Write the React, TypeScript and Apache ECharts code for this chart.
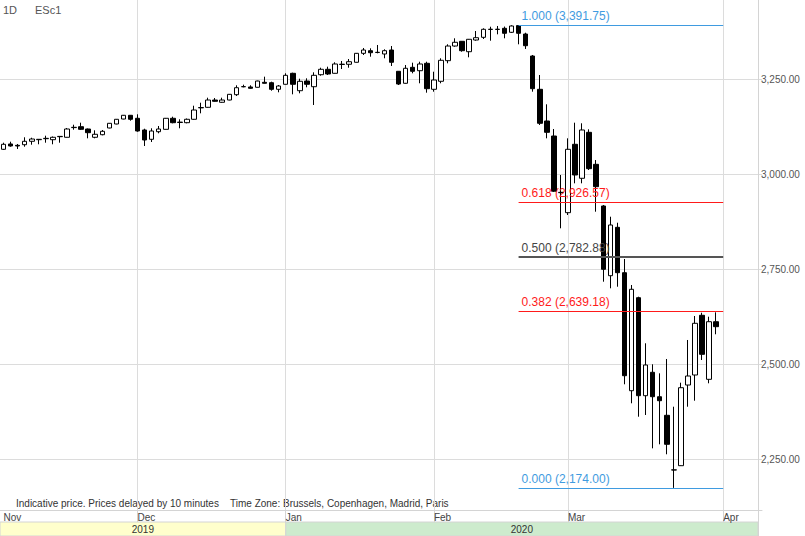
import React, { useEffect, useRef } from 'react';
import * as echarts from 'echarts';

const dates = [
  '2019-11-04','2019-11-05','2019-11-06','2019-11-07','2019-11-08','2019-11-11','2019-11-12','2019-11-13','2019-11-14','2019-11-15',
  '2019-11-18','2019-11-19','2019-11-20','2019-11-21','2019-11-22','2019-11-25','2019-11-26','2019-11-27','2019-11-29',
  '2019-12-02','2019-12-03','2019-12-04','2019-12-05','2019-12-06','2019-12-09','2019-12-10','2019-12-11','2019-12-12','2019-12-13',
  '2019-12-16','2019-12-17','2019-12-18','2019-12-19','2019-12-20','2019-12-23','2019-12-24','2019-12-26','2019-12-27','2019-12-30','2019-12-31',
  '2020-01-02','2020-01-03','2020-01-06','2020-01-07','2020-01-08','2020-01-09','2020-01-10','2020-01-13','2020-01-14','2020-01-15',
  '2020-01-16','2020-01-17','2020-01-21','2020-01-22','2020-01-23','2020-01-24','2020-01-27','2020-01-28','2020-01-29','2020-01-30','2020-01-31',
  '2020-02-03','2020-02-04','2020-02-05','2020-02-06','2020-02-07','2020-02-10','2020-02-11','2020-02-12','2020-02-13','2020-02-14',
  '2020-02-18','2020-02-19','2020-02-20','2020-02-21','2020-02-24','2020-02-25','2020-02-26','2020-02-27','2020-02-28',
  '2020-03-02','2020-03-03','2020-03-04','2020-03-05','2020-03-06','2020-03-09','2020-03-10','2020-03-11','2020-03-12','2020-03-13',
  '2020-03-16','2020-03-17','2020-03-18','2020-03-19','2020-03-20','2020-03-23','2020-03-24','2020-03-25','2020-03-26','2020-03-27',
  '2020-03-30','2020-03-31',
  '2020-04-01','2020-04-02','2020-04-03','2020-04-06','2020-04-07','2020-04-08',
];

const opens = [
  3065.0,3079.0,3075.5,3077.1,3086.1,3090.3,3092.9,3090.3,3098.2,3096.6,
  3122.1,3124.5,3118.4,3096.6,3103.4,3121.1,3131.6,3144.7,3154.5,3146.6,
  3115.8,3091.3,3111.3,3117.6,3146.6,3135.5,3135.0,3144.0,3174.0,3175.5,
  3194.7,3188.7,3194.7,3208.7,3229.5,3229.0,3228.2,3241.3,3240.3,3222.9,
  3236.1,3265.0,3219.2,3244.7,3229.7,3261.3,3275.5,3265.0,3288.2,3288.7,
  3294.0,3317.6,3324.5,3319.7,3315.8,3326.3,3270.3,3238.7,3280.8,3271.8,
  3291.3,3222.9,3244.0,3298.2,3336.8,3349.2,3321.8,3352.6,3359.7,3380.3,
  3380.3,3383.4,3372.9,3390.5,3368.4,3310.5,3222.9,3139.5,3100.0,2950.8,
  2898.2,3078.2,2988.7,3109.7,3025.5,2915.8,2732.4,2859.7,2740.3,2429.7,
  2674.5,2416.6,2478.2,2413.9,2365.0,2221.0,2232.4,2444.7,2471.1,2628.2,
  2459.7,2611.3,
];
const closes = [
  3078.2,3073.7,3073.7,3086.1,3092.1,3091.3,3093.9,3096.6,3099.0,3118.4,
  3122.9,3117.6,3108.7,3104.5,3112.4,3133.4,3144.0,3154.5,3144.0,3113.2,
  3089.5,3113.2,3118.4,3146.6,3135.0,3136.6,3144.0,3168.4,3175.0,3194.7,
  3191.3,3194.7,3209.7,3227.1,3230.0,3225.5,3244.7,3238.7,3222.9,3231.6,
  3259.7,3236.1,3244.0,3236.1,3259.7,3275.5,3263.2,3289.5,3289.0,3295.5,
  3317.6,3326.3,3319.2,3320.3,3324.5,3294.0,3236.8,3278.2,3270.3,3289.5,
  3224.5,3247.4,3299.2,3336.8,3346.6,3324.5,3354.5,3358.7,3380.8,3381.1,
  3381.1,3370.3,3389.5,3370.3,3337.6,3224.5,3133.4,3109.7,2954.7,2951.8,
  3065.0,2997.4,3115.8,3014.0,2966.6,2749.2,2865.8,2740.3,2469.2,2696.6,
  2416.6,2497.4,2413.9,2403.4,2288.7,2221.5,2437.6,2468.4,2607.1,2525.5,
  2611.3,2598.2,
];
const lows = [
  3063.2,3071.8,3065.8,3071.8,3077.1,3078.2,3082.4,3078.2,3082.4,3096.1,
  3116.6,3115.8,3093.9,3093.9,3101.8,3120.3,3130.8,3144.0,3140.3,3111.3,
  3073.7,3084.2,3107.1,3117.1,3133.4,3120.3,3133.4,3142.9,3159.7,3174.5,
  3190.3,3187.6,3194.0,3205.3,3228.2,3224.5,3227.6,3238.1,3219.2,3215.0,
  3235.5,3209.7,3212.4,3228.2,3181.6,3258.7,3260.5,3264.5,3276.3,3279.7,
  3293.4,3313.2,3308.7,3317.6,3304.5,3284.2,3234.2,3237.9,3265.0,3238.7,
  3214.0,3216.6,3238.7,3291.3,3335.0,3321.8,3307.1,3350.8,3355.3,3350.8,
  3367.6,3357.1,3371.1,3341.3,3329.0,3216.6,3129.0,3093.9,2952.6,2857.1,
  2892.1,2975.5,2975.5,3010.5,2900.8,2716.6,2699.2,2703.4,2446.6,2396.6,
  2361.3,2365.8,2278.1,2288.7,2262.4,2174.0,2231.6,2387.6,2403.4,2510.5,
  2449.2,2578.2,
];
const highs = [
  3082.4,3085.0,3079.0,3096.6,3095.5,3091.6,3100.8,3098.7,3099.2,3121.1,
  3129.7,3135.0,3119.7,3115.0,3115.8,3134.2,3144.7,3155.3,3155.3,3157.1,
  3119.2,3120.3,3126.3,3147.4,3150.8,3144.0,3146.1,3179.7,3187.6,3200.8,
  3200.0,3200.8,3210.5,3233.4,3235.0,3233.4,3245.5,3256.1,3242.9,3234.2,
  3265.0,3266.6,3250.8,3251.8,3267.6,3279.7,3282.4,3294.0,3297.4,3302.6,
  3318.4,3331.6,3330.8,3339.5,3328.2,3336.8,3271.0,3286.8,3292.9,3295.5,
  3295.5,3269.2,3304.5,3341.3,3357.1,3350.0,3355.3,3376.3,3383.4,3387.6,
  3389.5,3388.0,3391.4,3391.75,3371.8,3313.2,3260.5,3183.4,3118.4,2997.4,
  3093.9,3135.0,3133.4,3117.6,3036.8,2918.4,2887.6,2871.8,2776.3,2707.9,
  2677.1,2554.5,2499.2,2475.5,2513.2,2387.6,2450.8,2563.2,2626.3,2635.0,
  2624.5,2636.0,
];

const monthIdx = [0, 19, 40, 61, 80, 102];
const monthNames = ['Nov', 'Dec', 'Jan', 'Feb', 'Mar', 'Apr'];
const yTicks = [2250, 2500, 2750, 3000, 3250];

const fibLevels = [1.0, 0.618, 0.5, 0.382, 0.0];
const fibValues = [3391.75, 2926.57, 2782.88, 2639.18, 2174.0];
const fibColors = ['#3f9be0', '#ff1a1a', '#555555', '#ff1a1a', '#3f9be0'];
const fibTextColors = ['#3f9be0', '#ff1a1a', '#444444', '#ff1a1a', '#3f9be0'];
const fibWidths = [1, 1, 2, 1, 1];
const fibStart = 73;
const fibEnd = 102;

const years = ['2019', '2020'];
const yearColors = ['#ffffcc', '#cdebcd'];

const FONT = '"Liberation Sans", Arial, sans-serif';

const fmt = (v: number) =>
  v.toLocaleString('en-US', { minimumFractionDigits: 2, maximumFractionDigits: 2 });

export default function App() {
  const ref = useRef<HTMLDivElement>(null);

  useEffect(() => {
    if (!ref.current) return;
    const chart = echarts.init(ref.current, null, { renderer: 'svg' });
    const candles = opens.map((o, i) => [o, closes[i], lows[i], highs[i]]);

    const fibSeries = fibValues.map((v, k) => {
      const ls = { color: fibColors[k], width: fibWidths[k], type: 'solid' as const };
      return {
        type: 'line',
        name: 'fib' + k,
        data: [],
        color: fibColors[k],
        silent: true,
        z: 5,
        markLine: {
          silent: true,
          symbol: ['none', 'none'],
          z: 5,
          lineStyle: ls,
          label: {
            show: true,
            position: 'insideStartTop',
            formatter: `${fibLevels[k].toFixed(3)} (${fmt(v)})`,
            color: fibTextColors[k],
            fontSize: 12,
            fontFamily: FONT,
            distance: 3,
          },
          data: [
            [
              { coord: [dates[fibStart], v], lineStyle: ls },
              { coord: [dates[fibEnd], v], lineStyle: ls },
            ],
          ],
        },
      };
    });

    const option: any = {
      animation: false,
      backgroundColor: '#ffffff',
      textStyle: { fontFamily: FONT },
      grid: { left: 0, top: 0, width: 762, height: 510, containLabel: false },
      xAxis: {
        type: 'category',
        data: dates,
        boundaryGap: true,
        axisLine: { show: true, lineStyle: { color: '#d4d4d4', width: 1 } },
        axisTick: {
          show: true,
          alignWithLabel: true,
          length: 12,
          interval: (i: number) => monthIdx.indexOf(i) > 0,
          lineStyle: { color: '#d4d4d4' },
        },
        axisLabel: {
          show: true,
          interval: (i: number) => monthIdx.indexOf(i) >= 0,
          formatter: (_v: string, i: number) => {
            const k = monthIdx.indexOf(i);
            return k >= 0 ? monthNames[k] : '';
          },
          align: 'left',
          margin: 2,
          fontSize: 10,
          color: '#444444',
          fontFamily: FONT,
        },
        splitLine: { show: false },
      },
      yAxis: {
        type: 'value',
        position: 'right',
        min: 2115.8,
        max: 3457.9,
        axisLine: { show: false },
        axisTick: { show: false, customValues: yTicks },
        axisLabel: {
          customValues: yTicks,
          formatter: (v: number) => fmt(v),
          margin: -1,
          fontSize: 10,
          color: '#555555',
          fontFamily: FONT,
        },
        splitLine: { show: true, lineStyle: { color: '#dcdcdc', width: 1 } },
      },
      series: [
        {
          type: 'line',
          data: [],
          silent: true,
          markLine: {
            silent: true,
            symbol: ['none', 'none'],
            z: 1,
            label: { show: false },
            lineStyle: { color: '#dcdcdc', type: 'solid', width: 1 },
            data: monthIdx.slice(1).map((i) => ({ xAxis: dates[i] })),
          },
        },
        {
          type: 'candlestick',
          data: candles,
          barWidth: 5,
          z: 2,
          itemStyle: {
            color: '#ffffff',
            color0: '#000000',
            borderColor: '#000000',
            borderColor0: '#000000',
            borderWidth: 1,
          },
        },
        ...fibSeries,
      ],
    };
    chart.setOption(option);

    const xJan = chart.convertToPixel({ xAxisIndex: 0 }, dates[monthIdx[2]]) as number;
    const frameRight = 758;
    chart.setOption({
      graphic: [
        { type: 'text', left: 3, top: 4, style: { text: '1D', fontSize: 11, fill: '#555555', fontFamily: FONT } },
        { type: 'text', left: 35, top: 4, style: { text: 'ESc1', fontSize: 11, fill: '#555555', fontFamily: FONT } },
        {
          type: 'text', left: 16, top: 498,
          style: { text: 'Indicative price. Prices delayed by 10 minutes', fontSize: 10, fill: '#333333', fontFamily: FONT },
        },
        {
          type: 'text', left: 230, top: 498,
          style: { text: 'Time Zone: Brussels, Copenhagen, Madrid, Paris', fontSize: 10, fill: '#333333', fontFamily: FONT },
        },
        {
          type: 'rect', shape: { x: 0, y: 522, width: xJan, height: 14 },
          style: { fill: yearColors[0], stroke: '#d4d4d4', lineWidth: 1 },
        },
        {
          type: 'rect', shape: { x: xJan, y: 522, width: frameRight - xJan, height: 14 },
          style: { fill: yearColors[1], stroke: '#d4d4d4', lineWidth: 1 },
        },
        {
          type: 'text', x: xJan / 2, y: 529,
          style: { text: years[0], fontSize: 10, fill: '#333333', fontFamily: FONT, align: 'center', verticalAlign: 'middle' },
        },
        {
          type: 'text', x: (xJan + frameRight) / 2, y: 529,
          style: { text: years[1], fontSize: 10, fill: '#333333', fontFamily: FONT, align: 'center', verticalAlign: 'middle' },
        },
        {
          type: 'line', shape: { x1: frameRight + 0.5, y1: 0, x2: frameRight + 0.5, y2: 536 },
          style: { stroke: '#d4d4d4', lineWidth: 1 },
        },
      ],
    });

    return () => chart.dispose();
  }, []);

  return (
    <div
      ref={ref}
      style={{ position: 'fixed', left: 0, top: 0, width: 805, height: 536 }}
    />
  );
}
